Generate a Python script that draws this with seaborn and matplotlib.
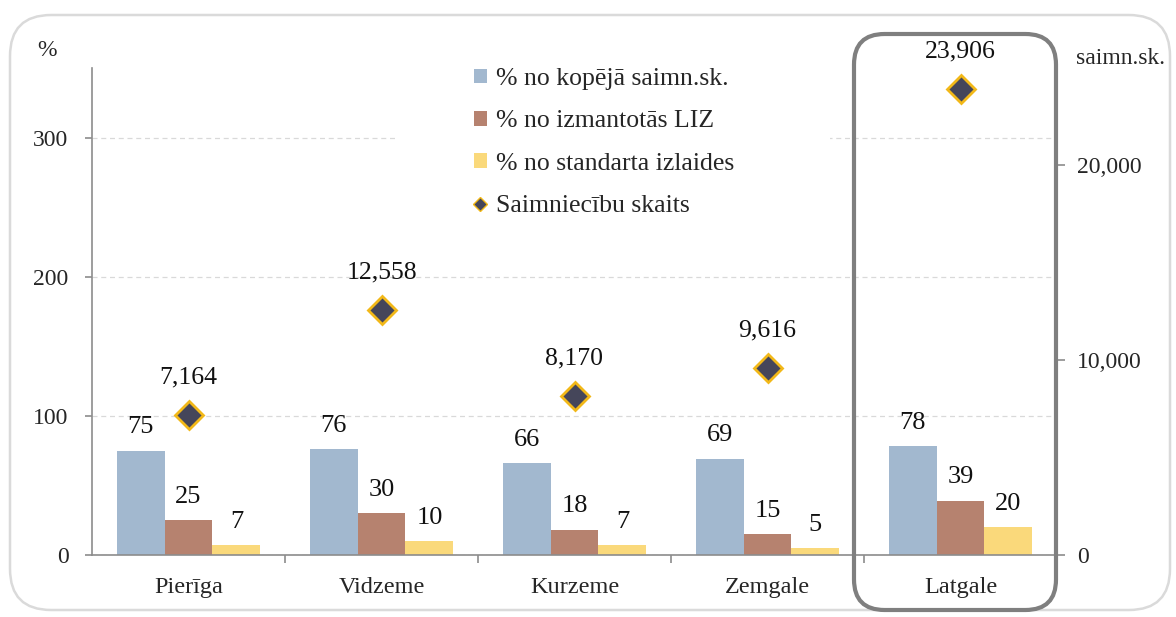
import numpy as np
import pandas as pd
import matplotlib
matplotlib.use("Agg")
import matplotlib.pyplot as plt
from matplotlib.patches import FancyBboxPatch, Rectangle, Patch
from matplotlib.lines import Line2D
from matplotlib.ticker import FuncFormatter
import seaborn as sns

# ---------------- data ----------------
regions = ["Pierīga", "Vidzeme", "Kurzeme", "Zemgale", "Latgale"]
series_names = ["% no kopējā saimn.sk.", "% no izmantotās LIZ", "% no standarta izlaides"]
pct_total_farms = [75, 76, 66, 69, 78]
pct_used_land = [25, 30, 18, 15, 39]
pct_std_output = [7, 10, 7, 5, 20]
farm_counts = [7164, 12558, 8170, 9616, 23906]
count_name = "Saimniecību skaits"
left_ticks = [0, 100, 200, 300]
right_ticks = [0, 10000, 20000]

# ---------------- style ----------------
bar_colors = ["#A2B8CF", "#B6826F", "#FAD97B"]
diamond_fill = "#45465A"
diamond_edge = "#F2B818"
axis_gray = "#8C8C8C"
FS_TICK = 17
FS_CAT = 17.5
FS_LEG = 18.5
FS_BAR = 19
FS_DIA = 18.5

sns.set_theme(style="white")
plt.rcParams["font.family"] = ["Liberation Serif", "DejaVu Serif"]

W, H = 1176, 617
fig = plt.figure(figsize=(W / 100, H / 100), dpi=100)

def fx(x):
    return x / W

def fy(y):
    return 1 - y / H

ax = fig.add_axes([fx(92), fy(555), (1057 - 92) / W, (555 - 68) / H])

df = pd.DataFrame({
    "region": regions * 3,
    "measure": sum([[s] * len(regions) for s in series_names], []),
    "value": pct_total_farms + pct_used_land + pct_std_output,
})

sns.barplot(data=df, x="region", y="value", hue="measure", order=regions,
            hue_order=series_names, palette=bar_colors, saturation=1,
            width=0.745, gap=0, errorbar=None, linewidth=0, legend=False, ax=ax)

for c in ax.containers:
    ax.bar_label(c, fmt="%d", padding=9, fontsize=FS_BAR, color="#111111")

ax.set_ylim(0, 350)
ax.set_yticks(left_ticks)
ax.set_xlim(-0.5, len(regions) - 0.5)
ax.set_xlabel("")
ax.set_ylabel("")
ax.yaxis.grid(True, linestyle=(0, (4, 3)), color="#D9D9D9", linewidth=0.9)
ax.xaxis.grid(False)
ax.set_axisbelow(True)
for s in ["top", "right"]:
    ax.spines[s].set_visible(False)
for s in ["left", "bottom"]:
    ax.spines[s].set_color(axis_gray)
    ax.spines[s].set_linewidth(1.2)
ax.tick_params(axis="y", which="major", length=5, color=axis_gray, width=1.2,
               labelsize=FS_TICK, pad=12, left=True)
ax.tick_params(axis="x", which="major", length=0, labelsize=FS_CAT, pad=16)
ax.set_xticks(np.arange(0.5, len(regions) - 0.5), minor=True)
ax.tick_params(axis="x", which="minor", length=6, color=axis_gray, width=1.2,
               direction="out", bottom=True)

# white box behind legend (hides grid line as in the original)
ax.add_patch(Rectangle((fx(397), fy(228)), fx(830) - fx(397), fy(58) - fy(228),
                       transform=fig.transFigure, facecolor="white",
                       edgecolor="none", zorder=0.7))

# ---------------- right axis: farm counts ----------------
ax2 = ax.twinx()
sns.pointplot(x=regions, y=farm_counts, order=regions, ax=ax2, errorbar=None,
              linestyle="none", marker="D", markersize=14, markeredgewidth=2,
              color=diamond_fill)
for ln in ax2.lines:
    ln.set_markeredgecolor(diamond_edge)
    ln.set_markerfacecolor(diamond_fill)
    ln.set_zorder(5)
ax2.set_ylim(0, 25000)
ax2.set_yticks(right_ticks)
ax2.yaxis.set_major_formatter(FuncFormatter(lambda v, p: f"{v:,.0f}"))
ax2.set_xlim(-0.5, len(regions) - 0.5)
ax2.set_ylabel("")
ax2.set_xlabel("")
ax2.grid(False)
for s in ax2.spines.values():
    s.set_visible(False)
ax2.tick_params(axis="y", length=6, color=axis_gray, width=1.2,
                labelsize=FS_TICK, pad=8.5, right=True)

for i, v in enumerate(farm_counts):
    ax2.annotate(f"{v:,}", xy=(i, v), xytext=(0, 27), textcoords="offset points",
                 ha="center", va="center", fontsize=FS_DIA, color="#111111")

# ---------------- legend ----------------
handles = [Patch(facecolor=bar_colors[i], edgecolor="none") for i in range(3)]
handles.append(Line2D([], [], linestyle="none", marker="D", markersize=7.5,
                      markerfacecolor=diamond_fill, markeredgecolor=diamond_edge,
                      markeredgewidth=1))
leg = ax2.legend(handles, series_names + [count_name], loc="upper left",
                 bbox_to_anchor=(fx(474), fy(68)), bbox_transform=fig.transFigure,
                 frameon=False, fontsize=FS_LEG, borderpad=0, borderaxespad=0,
                 handlelength=0.5, handleheight=0.5, handletextpad=0.35,
                 labelspacing=0.79)

# ---------------- texts and frames ----------------
fig.text(fx(47), fy(51), "%", ha="center", va="center", fontsize=FS_TICK)
fig.text(fx(1076), fy(58), "saimn.sk.", ha="left", va="center", fontsize=FS_TICK)

outer = FancyBboxPatch((fx(10), fy(610)), fx(1170) - fx(10), fy(15) - fy(610),
                       boxstyle="round,pad=0,rounding_size=0.035",
                       transform=fig.transFigure, facecolor="none",
                       edgecolor="#DADADA", linewidth=1.8, mutation_aspect=W / H)
fig.patches.append(outer)

latg = FancyBboxPatch((fx(854), fy(610)), fx(1056) - fx(854), fy(34) - fy(610),
                      boxstyle="round,pad=0,rounding_size=0.026",
                      transform=fig.transFigure, facecolor="none",
                      edgecolor="#7F7F7F", linewidth=3, mutation_aspect=W / H,
                      zorder=10)
fig.patches.append(latg)

fig.savefig("out.png", dpi=100)
